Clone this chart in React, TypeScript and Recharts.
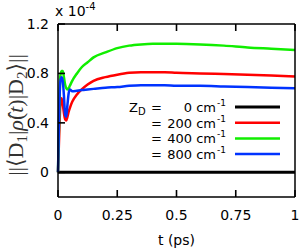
import { Legend, Line, LineChart, XAxis, YAxis } from "recharts";

const TIME = [
  0, 0.005, 0.01, 0.015, 0.02, 0.025, 0.03, 0.035, 0.04, 0.045, 0.05, 0.06,
  0.08, 0.1, 0.125, 0.15, 0.2, 0.25, 0.3, 0.35, 0.4, 0.45, 0.5, 0.6, 0.7, 0.8,
  0.9, 1.0,
];
const Z0 = [
  0, 0, 0, 0, 0, 0, 0, 0, 0, 0, 0, 0, 0, 0, 0, 0, 0, 0, 0, 0, 0, 0, 0, 0, 0, 0,
  0, 0,
];
const Z200 = [
  0, 0.3, 0.55, 0.6, 0.55, 0.48, 0.43, 0.42, 0.45, 0.49, 0.52, 0.57, 0.63, 0.67,
  0.71, 0.74, 0.77, 0.79, 0.805, 0.81, 0.81, 0.81, 0.805, 0.8, 0.795, 0.79,
  0.783, 0.775,
];
const Z400 = [
  0, 0.45, 0.78, 0.82, 0.82, 0.77, 0.71, 0.68, 0.67, 0.68, 0.7, 0.74, 0.8,
  0.85, 0.89, 0.93, 0.97, 1.005, 1.025, 1.035, 1.04, 1.04, 1.04, 1.035, 1.025,
  1.01, 1.0, 0.99,
];
const Z800 = [
  0, 0.5, 0.74, 0.77, 0.74, 0.62, 0.47, 0.45, 0.55, 0.64, 0.67, 0.655, 0.66,
  0.665, 0.67, 0.675, 0.685, 0.69, 0.7, 0.705, 0.705, 0.705, 0.7, 0.7, 0.695,
  0.69, 0.685, 0.68,
];
const X_TICKS = [0, 0.25, 0.5, 0.75, 1];
const Y_TICKS = [0, 0.4, 0.8, 1.2];
const X_DOMAIN = [0, 1];
const Y_DOMAIN = [-0.2, 1.2];

const SERIES = [
  { key: "z0", value: "0", color: "#000000", width: 3, data: Z0 },
  { key: "z200", value: "200", color: "#ff0000", width: 2.5, data: Z200 },
  { key: "z400", value: "400", color: "#11ee00", width: 2.5, data: Z400 },
  { key: "z800", value: "800", color: "#0033ff", width: 2.5, data: Z800 },
];

const rows = TIME.map((t, i) => {
  const r: Record<string, number> = { t };
  SERIES.forEach((s) => (r[s.key] = s.data[i]));
  return r;
});

const FONT = "'DejaVu Sans', Arial, sans-serif";
const frame = { stroke: "#000", strokeWidth: 1.5 };
const TICK = 7;

// gnuplot style: tick marks point into the plot
const BottomTick = (p: any) => (
  <g>
    <path d={`M${p.x},${p.y}v${-TICK}`} stroke="#000" strokeWidth={1.6} fill="none" />
    <text x={p.x} y={p.y + 23} textAnchor="middle" fontSize={14} fontFamily={FONT}>
      {`${p.payload.value}`}
    </text>
  </g>
);
const TopTick = (p: any) => (
  <path d={`M${p.x},${p.y}v${TICK}`} stroke="#000" strokeWidth={1.6} fill="none" />
);
const LeftTick = (p: any) => (
  <g>
    <path d={`M${p.x},${p.y}h${TICK}`} stroke="#000" strokeWidth={1.6} fill="none" />
    <text x={p.x - 9} y={p.y + 5} textAnchor="end" fontSize={14} fontFamily={FONT}>
      {`${p.payload.value}`}
    </text>
  </g>
);
const RightTick = (p: any) => (
  <path d={`M${p.x},${p.y}h${-TICK}`} stroke="#000" strokeWidth={1.6} fill="none" />
);

function LegendBox() {
  return (
    <svg width={299} height={249} style={{ position: "absolute", left: 0, top: 0 }}>
      {SERIES.map((s, i) => {
        const y = 107 + i * 15.7;
        return (
          <g key={s.key}>
            {i === 0 && (
              <text x={129} y={y + 5} fontSize={13} fontFamily={FONT}>
                Z
                <tspan fontSize={10} dy={3}>D</tspan>
              </text>
            )}
            <text x={151} y={y + 5} fontSize={13} fontFamily={FONT}>=</text>
            <text x={216} y={y + 5} fontSize={13} fontFamily={FONT} textAnchor="end">
              {s.value} cm
            </text>
            <text x={217} y={y - 1} fontSize={9} fontFamily={FONT}>-1</text>
            <line x1={235} x2={280} y1={y} y2={y} stroke={s.color} strokeWidth={s.width} />
          </g>
        );
      })}
    </svg>
  );
}

export default function App() {
  return (
    <div style={{ position: "absolute", left: 0, top: 0, width: 299, height: 249 }}>
      <LineChart
        width={299}
        height={249}
        data={rows}
        margin={{ top: 23, right: 3, bottom: 0, left: 0 }}
      >
        <XAxis
          dataKey="t"
          type="number"
          domain={X_DOMAIN}
          ticks={X_TICKS}
          tick={BottomTick}
          height={52}
          tickSize={0}
          tickMargin={0}
          tickLine={false}
          axisLine={frame}
          label={{
            value: "t (ps)",
            position: "insideBottom",
            offset: 4,
            style: { fontSize: 14, fill: "#000", fontFamily: FONT },
          }}
        />
        <XAxis
          xAxisId="top"
          orientation="top"
          dataKey="t"
          type="number"
          domain={X_DOMAIN}
          ticks={X_TICKS}
          tick={TopTick}
          height={1}
          tickSize={0}
          tickMargin={0}
          tickLine={false}
          axisLine={frame}
        />
        <YAxis
          type="number"
          domain={Y_DOMAIN}
          ticks={Y_TICKS}
          tick={LeftTick}
          width={58}
          tickSize={0}
          tickMargin={0}
          tickLine={false}
          axisLine={frame}
        />
        <YAxis
          yAxisId="right"
          orientation="right"
          type="number"
          domain={Y_DOMAIN}
          ticks={Y_TICKS}
          tick={RightTick}
          width={1}
          tickSize={0}
          tickMargin={0}
          tickLine={false}
          axisLine={frame}
        />
        {SERIES.map((s) => (
          <Line
            key={s.key}
            dataKey={s.key}
            type="monotone"
            stroke={s.color}
            strokeWidth={s.width}
            dot={false}
            isAnimationActive={false}
          />
        ))}
        <Legend content={() => null} />
      </LineChart>
      <svg width={299} height={249} style={{ position: "absolute", left: 0, top: 0 }}>
        <text x={55} y={16} fontSize={14} fontFamily={FONT}>
          x 10
          <tspan fontSize={10} dy={-6}>-4</tspan>
        </text>
        <text
          transform="translate(23,115) rotate(-90)"
          textAnchor="middle"
          fontSize={22}
          fontFamily="'Liberation Serif', 'DejaVu Serif', serif"
          fill="#333"
        >
          ||⟨D<tspan fontSize={15} dy={4}>1</tspan>
          <tspan dy={-4}>|</tspan>
          <tspan fontStyle="italic">ρ̂</tspan>(<tspan fontStyle="italic">t</tspan>)|D
          <tspan fontSize={15} dy={4}>2</tspan>
          <tspan dy={-4}>⟩||</tspan>
        </text>
      </svg>
      <LegendBox />
    </div>
  );
}
